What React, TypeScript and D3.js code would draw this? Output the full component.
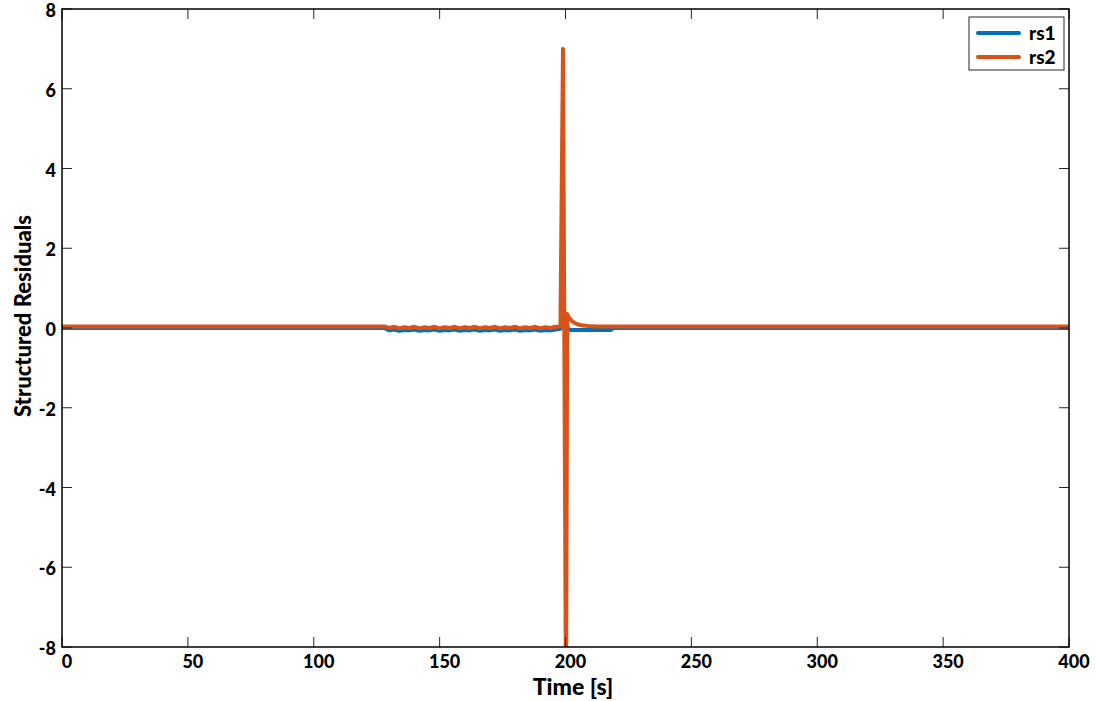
import React from "react";
import * as d3 from "d3";

// rs1 samples (time in s, residual)
const rs1Time = [
  0, 128, 130, 132, 134, 136, 138, 140, 142, 144, 146, 148, 150, 152, 154, 156,
  158, 160, 162, 164, 166, 168, 170, 172, 174, 176, 178, 180, 182, 184, 186,
  188, 190, 192, 194, 196, 198, 198.8, 199.5, 200.2, 201, 202, 218, 219, 400,
];
const rs1Values = [
  0, 0, -0.06, -0.04, -0.07, -0.05, -0.06, -0.04, -0.07, -0.05, -0.06, -0.04,
  -0.07, -0.05, -0.06, -0.04, -0.07, -0.05, -0.06, -0.04, -0.07, -0.05, -0.06,
  -0.04, -0.07, -0.05, -0.06, -0.04, -0.07, -0.05, -0.06, -0.04, -0.07, -0.05,
  -0.06, -0.04, -0.02, 0.1, 0.35, 0.2, -0.02, -0.05, -0.05, 0, 0,
];

// rs2 samples (time in s, residual)
const rs2Time = [
  0, 128, 130, 132, 134, 136, 138, 140, 142, 144, 146, 148, 150, 152, 154, 156,
  158, 160, 162, 164, 166, 168, 170, 172, 174, 176, 178, 180, 182, 184, 186,
  188, 190, 192, 194, 196, 198, 199, 200.2, 200.7, 201.5, 202.5, 203.5, 204.5,
  205.5, 207, 209, 212, 400,
];
const rs2Values = [
  0.04, 0.04, 0.0, 0.03, -0.01, 0.02, 0.0, 0.03, -0.01, 0.02, 0.0, 0.03, -0.01,
  0.02, 0.0, 0.03, -0.01, 0.02, 0.0, 0.03, -0.01, 0.02, 0.0, 0.03, -0.01, 0.02,
  0.0, 0.03, -0.01, 0.02, 0.0, 0.03, -0.01, 0.02, 0.0, 0.03, 0.04, 7.0, -9.5,
  0.35, 0.25, 0.18, 0.13, 0.1, 0.08, 0.06, 0.05, 0.04, 0.04,
];

const xTicks = [0, 50, 100, 150, 200, 250, 300, 350, 400];
const yTicks = [-8, -6, -4, -2, 0, 2, 4, 6, 8];
const seriesNames = ["rs1", "rs2"];
const seriesColors = ["#0072BD", "#D95319"];

const W = 1096;
const H = 701;
const M = { left: 62, top: 9, right: 1069, bottom: 647 };
const FONT = "Lato, 'Open Sans', sans-serif";

export default function App() {
  const x = d3.scaleLinear().domain([0, 400]).range([M.left, M.right]);
  const y = d3.scaleLinear().domain([-8, 8]).range([M.bottom, M.top]);

  const line = d3
    .line<[number, number]>()
    .x((d) => x(d[0]))
    .y((d) => y(d[1]));

  const s1 = rs1Time.map((t, i) => [t, rs1Values[i]] as [number, number]);
  const s2 = rs2Time.map((t, i) => [t, rs2Values[i]] as [number, number]);
  const series = [s1, s2];
  const tickLen = 10;

  return (
    <svg
      width={W}
      height={H}
      style={{ position: "absolute", left: 0, top: 0, background: "#fff" }}
      fontFamily={FONT}
      fontWeight={900}
    >
      <defs>
        <clipPath id="plotClip">
          <rect x={M.left} y={M.top} width={M.right - M.left} height={M.bottom - M.top} />
        </clipPath>
      </defs>
      <rect x={0} y={0} width={W} height={H} fill="#fff" />

      {/* data */}
      <g clipPath="url(#plotClip)">
        {series.map((s, i) => (
          <path
            key={seriesNames[i]}
            d={line(s) || ""}
            fill="none"
            stroke={seriesColors[i]}
            strokeWidth={4}
            strokeLinejoin="round"
            strokeLinecap="round"
          />
        ))}
      </g>

      {/* ticks on all sides */}
      <g stroke="#262626" strokeWidth={1}>
        {xTicks.map((t) => (
          <g key={"xt" + t}>
            <line x1={x(t)} x2={x(t)} y1={M.bottom} y2={M.bottom - tickLen} />
            <line x1={x(t)} x2={x(t)} y1={M.top} y2={M.top + tickLen} />
          </g>
        ))}
        {yTicks.map((t) => (
          <g key={"yt" + t}>
            <line x1={M.left} x2={M.left + tickLen} y1={y(t)} y2={y(t)} />
            <line x1={M.right} x2={M.right - tickLen} y1={y(t)} y2={y(t)} />
          </g>
        ))}
      </g>

      {/* box */}
      <rect
        x={M.left}
        y={M.top}
        width={M.right - M.left}
        height={M.bottom - M.top}
        fill="none"
        stroke="#000"
        strokeWidth={1.5}
      />

      {/* tick labels */}
      <g fontSize={18} fill="#000">
        {xTicks.map((t) => (
          <text key={"xl" + t} x={x(t) + 5} y={M.bottom + 21} textAnchor="middle">
            {t}
          </text>
        ))}
        {yTicks.map((t) => (
          <text key={"yl" + t} x={56} y={y(t) + 8} textAnchor="end">
            {t}
          </text>
        ))}
      </g>

      {/* axis labels */}
      <text x={573} y={695} textAnchor="middle" fontSize={23} fill="#000">
        Time [s]
      </text>
      <text
        transform={`translate(31, 316) rotate(-90)`}
        textAnchor="middle"
        fontSize={22}
        fill="#000"
      >
        Structured Residuals
      </text>

      {/* legend */}
      <g>
        <rect x={969} y={17} width={95} height={53} fill="#fff" stroke="#262626" strokeWidth={1} />
        {seriesNames.map((n, i) => (
          <g key={"lg" + n}>
            <line
              x1={978}
              x2={1019}
              y1={33 + i * 24}
              y2={33 + i * 24}
              stroke={seriesColors[i]}
              strokeWidth={4}
              strokeLinecap="round"
            />
            <text x={1029} y={40 + i * 24} fontSize={19} fill="#000">
              {n}
            </text>
          </g>
        ))}
      </g>
    </svg>
  );
}
